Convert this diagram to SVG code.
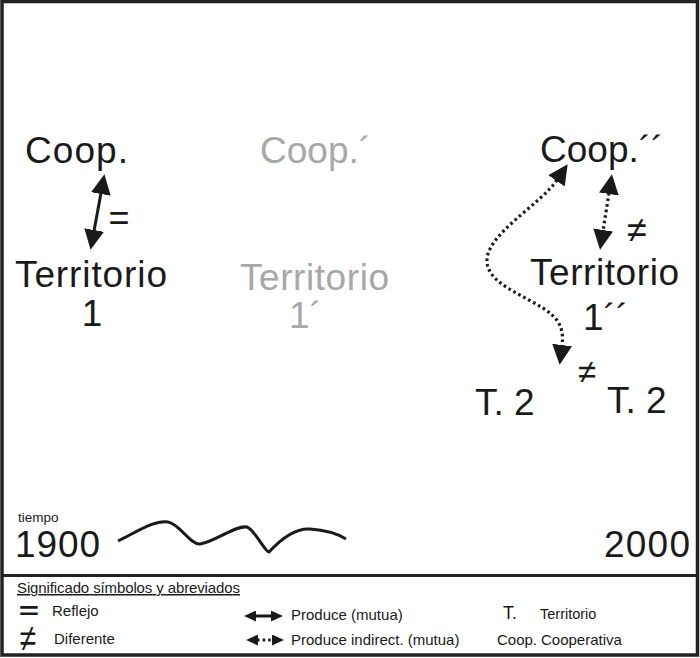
<svg xmlns="http://www.w3.org/2000/svg" width="700" height="658" viewBox="0 0 700 658">
<style>
text{font-family:"Liberation Sans",Arial,sans-serif;fill:#1a1a1a}
.big{font-size:37px}
.gray{fill:#a8a8a8}
.lg{font-size:15px}
.solid{stroke:#1a1a1a;stroke-width:3;fill:none}
.dot{stroke:#1a1a1a;stroke-width:3.2;fill:none;stroke-dasharray:2.6 3}
</style>
<defs>
<marker id="ah" viewBox="0 0 20 20" refX="1" refY="10" markerWidth="20" markerHeight="20" markerUnits="userSpaceOnUse" orient="auto-start-reverse">
<path d="M0,0 L20,10 L0,20 z" fill="#1a1a1a"/>
</marker>
<marker id="ahs" viewBox="0 0 12 11" refX="1" refY="5.5" markerWidth="12" markerHeight="11" markerUnits="userSpaceOnUse" orient="auto-start-reverse">
<path d="M0,0 L12,5.5 L0,11 z" fill="#1a1a1a"/>
</marker>
</defs>
<rect x="2" y="1.5" width="695.5" height="653.5" fill="#fff" stroke="#222" stroke-width="3.5"/>
<line x1="2" y1="575.5" x2="697.5" y2="575.5" stroke="#222" stroke-width="3"/>

<g id="coop1"><text class="big" x="25" y="163" textLength="103">Coop.</text></g>
<g id="territorio1"><text class="big" x="15" y="287" textLength="152">Territorio</text><text class="big" x="92" y="326" text-anchor="middle">1</text></g>
<g id="coop1p"><text class="big gray" x="260" y="163">Coop.´</text></g>
<g id="territorio1p"><text class="big gray" x="240" y="290" textLength="149">Territorio</text><text class="big gray" x="289" y="328">1´</text></g>
<g id="coop1pp"><text class="big" x="540" y="162">Coop.´´</text></g>
<g id="territorio1pp"><text class="big" x="530" y="285" textLength="149">Territorio</text><text class="big" x="583" y="330">1´´</text></g>
<g id="t2a"><text class="big" x="475" y="415">T. 2</text></g>
<g id="t2b"><text class="big" x="607" y="413">T. 2</text></g>

<g id="connectors">
<line class="solid" x1="101" y1="193" x2="94" y2="231" marker-start="url(#ah)" marker-end="url(#ah)"/>
<line class="dot" x1="609" y1="193" x2="603" y2="231" marker-start="url(#ah)" marker-end="url(#ah)"/>
<path class="dot" d="M557,180 C540,205 485,235 487,262 C489,290 545,300 558,322 C563,330 563,338 562,346" marker-start="url(#ah)" marker-end="url(#ah)"/>
</g>

<g id="labels">
<text x="119" y="230" font-size="36" text-anchor="middle">=</text>
<text x="637" y="242" font-size="36" text-anchor="middle">≠</text>
<text x="587" y="383" font-size="33" text-anchor="middle">≠</text>
</g>

<g id="timeline">
<text x="18" y="522" font-size="13.5">tiempo</text>
<text class="big" x="15" y="557" textLength="85">1900</text>
<text class="big" x="690" y="557" text-anchor="end" textLength="86">2000</text>
<path d="M118,541 C140,530 155,520 168,522 C180,524 190,545 200,544 C215,542 235,525 247,527 C255,530 265,552 269,552 C280,540 295,528 310,529 C325,530 338,534 346,539" fill="none" stroke="#1a1a1a" stroke-width="3"/>
</g>

<g id="legend">
<text class="lg" x="17" y="593" textLength="223" text-decoration="underline">Significado símbolos y abreviados</text>
<text font-size="24" font-weight="bold" text-anchor="middle" transform="translate(29,619) scale(1.45,1)">=</text>
<text class="lg" x="52" y="616">Reflejo</text>
<text font-size="30" text-anchor="middle" transform="translate(28,651) scale(1,1.25)">≠</text>
<text class="lg" x="54" y="644">Diferente</text>
<line class="solid" x1="255" y1="616" x2="272" y2="616" stroke-width="2.5" marker-start="url(#ahs)" marker-end="url(#ahs)"/>
<text class="lg" x="291" y="620">Produce (mutua)</text>
<line class="dot" x1="257" y1="640" x2="273" y2="640" stroke-width="2.5" stroke-dasharray="2 2.5" marker-start="url(#ahs)" marker-end="url(#ahs)"/>
<text class="lg" x="291" y="645">Produce indirect. (mutua)</text>
<text x="503" y="619" font-size="18">T.</text>
<text x="540" y="619" font-size="14.5">Territorio</text>
<text class="lg" x="497" y="645">Coop.</text>
<text class="lg" x="541" y="645">Cooperativa</text>
</g>
</svg>
